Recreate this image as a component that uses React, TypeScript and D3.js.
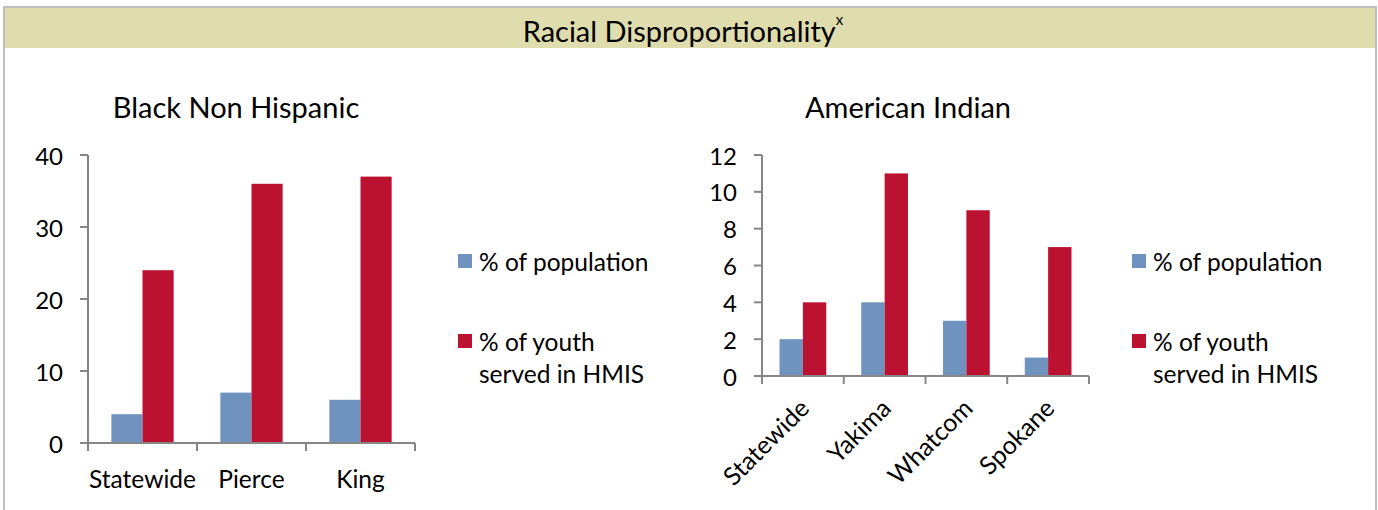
import React from "react";
import * as d3 from "d3";

// Series names and colours
const seriesNames = ["% of population", "% of youth served in HMIS"];
const seriesColors = ["#7092be", "#bb1232"];

// Black Non Hispanic panel
const blackCategories = ["Statewide", "Pierce", "King"];
const blackPopulation = [4, 7, 6];
const blackYouth = [24, 36, 37];
const blackTicks = [0, 10, 20, 30, 40];

// American Indian panel
const indianCategories = ["Statewide", "Yakima", "Whatcom", "Spokane"];
const indianPopulation = [2, 4, 3, 1];
const indianYouth = [4, 11, 9, 7];
const indianTicks = [0, 2, 4, 6, 8, 10, 12];

const FONT = "Lato, 'Open Sans', sans-serif";
const AXIS = "#868686";

type PanelProps = {
  title: string;
  titleX: number;
  categories: string[];
  population: number[];
  youth: number[];
  ticks: number[];
  x0: number;
  x1: number;
  yTop: number;
  yZero: number;
  rotate: boolean;
  legendX: number;
};

function Panel(p: PanelProps) {
  const x = d3.scaleBand<string>().domain(p.categories).range([p.x0, p.x1]).padding(0);
  const inner = d3
    .scaleBand<number>()
    .domain([0, 1])
    .range([0, x.bandwidth()])
    .paddingInner(0)
    .paddingOuter(0.75);
  const yMax = p.ticks[p.ticks.length - 1];
  const y = d3.scaleLinear().domain([0, yMax]).range([p.yZero, p.yTop]);
  const boundaries = [...p.categories.map((c) => x(c) as number), p.x1];
  const values = [p.population, p.youth];

  return (
    <g>
      <text x={p.titleX} y={106} fontSize={29} textAnchor="middle" dominantBaseline="central" fill="#000">
        {p.title}
      </text>
      {/* bars */}
      {p.categories.map((c, i) =>
        values.map((vals, s) => (
          <rect
            key={c + s}
            x={(x(c) as number) + (inner(s) as number)}
            y={y(vals[i])}
            width={inner.bandwidth()}
            height={p.yZero - y(vals[i])}
            fill={seriesColors[s]}
          />
        ))
      )}
      {/* y axis */}
      <line x1={p.x0} x2={p.x0} y1={y(yMax)} y2={p.yZero} stroke={AXIS} strokeWidth={2} />
      {p.ticks.map((t) => (
        <g key={t}>
          <line x1={p.x0 - 8} x2={p.x0} y1={y(t)} y2={y(t)} stroke={AXIS} strokeWidth={2} />
          <text x={p.x0 - 25} y={y(t)} fontSize={24} textAnchor="end" dominantBaseline="central" fill="#000">
            {t}
          </text>
        </g>
      ))}
      {/* x axis */}
      <line x1={p.x0 - 8} x2={p.x1} y1={p.yZero} y2={p.yZero} stroke={AXIS} strokeWidth={2} />
      {boundaries.map((b, i) => (
        <line key={i} x1={b} x2={b} y1={p.yZero} y2={p.yZero + 8} stroke={AXIS} strokeWidth={2} />
      ))}
      {p.categories.map((c) => {
        const cx = (x(c) as number) + x.bandwidth() / 2;
        return p.rotate ? (
          <text
            key={c}
            transform={`translate(${cx + 8},${p.yZero + 34}) rotate(-45)`}
            fontSize={25}
            textAnchor="end"
            fill="#000"
          >
            {c}
          </text>
        ) : (
          <text key={c} x={cx} y={p.yZero + 35} fontSize={24.5} textAnchor="middle" dominantBaseline="central" fill="#000">
            {c}
          </text>
        );
      })}
      {/* legend */}
      <rect x={p.legendX} y={254} width={14} height={14} fill={seriesColors[0]} />
      <text x={p.legendX + 21} y={261} fontSize={24.5} dominantBaseline="central" fill="#000">
        {seriesNames[0]}
      </text>
      <rect x={p.legendX} y={334} width={14} height={14} fill={seriesColors[1]} />
      <text x={p.legendX + 21} y={341} fontSize={24.5} dominantBaseline="central" fill="#000">
        % of youth
      </text>
      <text x={p.legendX + 21} y={373} fontSize={24.5} dominantBaseline="central" fill="#000">
        served in HMIS
      </text>
    </g>
  );
}

export default function App() {
  return (
    <svg
      width={1378}
      height={510}
      style={{ position: "absolute", left: 0, top: 0, background: "#fff" }}
      fontFamily={FONT}
    >
      <rect x={0} y={0} width={1378} height={510} fill="#fff" />
      <rect x={5} y={8} width={1370} height={40} fill="#dfdcad" />
      <path d="M4,520 V7 H1376 V520" fill="none" stroke="#bfbfbf" strokeWidth={2} />
      <text x={683} y={30} fontSize={29} textAnchor="middle" dominantBaseline="central" fill="#000">
        Racial Disproportionality
        <tspan fontSize={15} dy={-11}>x</tspan>
      </text>
      <Panel
        title="Black Non Hispanic"
        titleX={236}
        categories={blackCategories}
        population={blackPopulation}
        youth={blackYouth}
        ticks={blackTicks}
        x0={88}
        x1={415}
        yTop={155}
        yZero={443}
        rotate={false}
        legendX={458}
      />
      <Panel
        title="American Indian"
        titleX={908}
        categories={indianCategories}
        population={indianPopulation}
        youth={indianYouth}
        ticks={indianTicks}
        x0={762}
        x1={1089}
        yTop={155}
        yZero={376}
        rotate={true}
        legendX={1132}
      />
    </svg>
  );
}
